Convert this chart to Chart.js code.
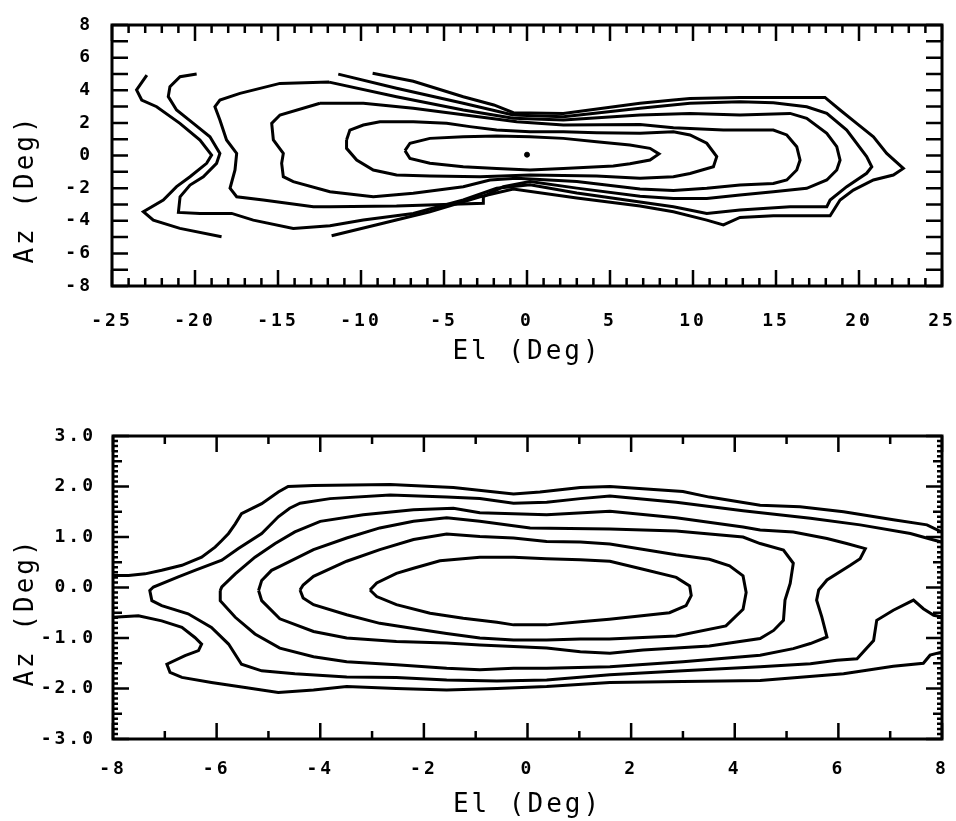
<!DOCTYPE html>
<html>
<head>
<meta charset="utf-8">
<script src="https://cdn.jsdelivr.net/npm/chart.js@4.4.1/dist/chart.umd.min.js"></script>
<style>
  html, body { margin: 0; padding: 0; background: #fff; }
  #wrap { position: relative; width: 956px; height: 821px; }
  canvas { position: absolute; left: 0; }
  #topChart { top: 0; }
  #botChart { top: 400px; }
</style>
</head>
<body>
<div id="wrap">
  <canvas id="topChart" width="956" height="380"></canvas>
  <canvas id="botChart" width="956" height="421"></canvas>
</div>
<script>
// ---- top plot: El -25..25, Az -8..8, contours as [El, Az] pairs ----
const topC1 = [[-7.35,0.30],[-7.05,0.75],[-5.85,1.05],[-3.84,1.15],[-1.83,1.20],[0.18,1.15],[2.19,1.05],[4.19,0.85],[6.20,0.64],[7.41,0.44],[7.95,0.10],[7.41,-0.28],[6.20,-0.50],[5.20,-0.65],[2.19,-0.79],[0.18,-0.89],[-1.83,-0.79],[-3.84,-0.69],[-5.85,-0.48],[-7.05,-0.18],[-7.35,0.30]];
const topC2 = [[-10.87,0.95],[-10.67,1.56],[-9.86,1.87],[-8.86,2.07],[-6.85,2.07],[-4.84,1.97],[-3.44,1.77],[-1.83,1.56],[0.18,1.46],[2.19,1.46],[4.19,1.40],[6.81,1.36],[8.82,1.46],[9.82,1.26],[10.83,0.75],[11.43,-0.07],[11.23,-0.69],[9.82,-1.10],[8.82,-1.30],[6.81,-1.40],[4.19,-1.25],[0.18,-1.20],[-2.83,-1.30],[-5.85,-1.26],[-7.86,-1.20],[-9.26,-0.89],[-10.26,-0.28],[-10.87,0.44],[-10.87,0.95]];
const topC3 = [[-12.47,3.20],[-9.86,3.20],[-6.85,2.90],[-3.84,2.50],[-0.62,2.07],[2.19,1.87],[6.81,1.90],[8.82,1.70],[11.83,1.56],[14.84,1.56],[15.65,1.26],[16.25,0.54],[16.45,-0.28],[16.25,-0.89],[15.65,-1.50],[14.84,-1.71],[12.83,-1.81],[10.83,-2.01],[8.82,-2.15],[6.81,-2.05],[3.00,-1.60],[-0.62,-1.40],[-2.23,-1.50],[-3.84,-1.91],[-6.85,-2.32],[-9.26,-2.53],[-11.87,-2.22],[-14.08,-1.60],[-14.68,-1.30],[-14.78,-0.48],[-14.68,0.13],[-15.28,0.95],[-15.38,1.97],[-14.88,2.48],[-12.47,3.20]];
const topC4 = [[-11.92,4.50],[-7.86,3.60],[-3.84,2.79],[-0.83,2.28],[2.19,2.18],[6.81,2.48],[9.82,2.58],[12.83,2.48],[15.85,2.58],[16.85,2.28],[18.06,1.36],[18.66,0.54],[18.86,-0.28],[18.66,-0.89],[18.06,-1.50],[16.85,-2.01],[14.84,-2.22],[12.83,-2.42],[10.83,-2.63],[8.82,-2.63],[6.81,-2.50],[3.00,-2.00],[0.18,-1.60],[-1.43,-1.91],[-2.63,-2.53],[-2.63,-2.93],[-7.86,-3.10],[-11.87,-3.14],[-12.87,-3.14],[-15.89,-2.73],[-17.49,-2.53],[-17.89,-2.01],[-17.59,-0.89],[-17.49,0.13],[-18.10,0.95],[-18.50,2.18],[-18.80,2.99],[-18.50,3.40],[-17.29,3.81],[-14.88,4.42],[-11.92,4.50]];
const topC5 = [[-19.90,5.00],[-20.90,4.83],[-21.51,4.22],[-21.61,3.61],[-21.11,2.79],[-20.10,1.97],[-19.10,1.15],[-18.50,0.13],[-18.70,-0.48],[-19.50,-1.30],[-20.30,-1.81],[-20.90,-2.53],[-21.00,-3.49],[-19.70,-3.55],[-17.79,-3.55],[-16.49,-3.96],[-14.08,-4.47],[-11.87,-4.30],[-9.86,-3.96],[-6.85,-3.55],[-3.84,-2.73],[-1.83,-2.01],[0.18,-1.80],[3.00,-2.30],[6.81,-2.85],[8.82,-3.14],[10.83,-3.55],[12.83,-3.34],[15.85,-3.14],[18.06,-3.14],[18.26,-2.73],[19.26,-1.91],[20.46,-1.09],[20.77,-0.69],[20.46,-0.07],[19.26,1.56],[18.06,2.58],[16.85,2.99],[14.84,3.24],[12.83,3.30],[9.82,3.20],[6.81,2.89],[2.19,2.38],[-0.83,2.48],[-3.84,3.20],[-7.86,4.12],[-11.37,4.99]];
const topC6a = [[-22.90,4.93],[-23.52,4.02],[-23.21,3.40],[-22.31,2.99],[-20.91,1.97],[-19.70,0.95],[-19.00,0.03],[-19.30,-0.48],[-20.30,-1.30],[-21.11,-1.91],[-21.91,-2.73],[-23.11,-3.44],[-22.51,-3.96],[-20.91,-4.47],[-18.40,-4.98]];
const topC6b = [[-11.77,-4.92],[-8.86,-4.20],[-5.85,-3.45],[-2.83,-2.53],[-0.83,-2.05],[3.00,-2.60],[6.81,-3.10],[8.82,-3.45],[10.83,-3.96],[11.83,-4.26],[12.83,-3.80],[14.84,-3.70],[18.26,-3.70],[18.86,-2.73],[19.66,-2.12],[20.87,-1.50],[22.07,-1.20],[22.67,-0.79],[21.67,0.13],[20.87,1.15],[19.86,1.97],[18.86,2.79],[17.95,3.56],[12.83,3.56],[9.82,3.50],[8.82,3.40],[6.81,3.20],[2.19,2.58],[-0.82,2.62],[-2.00,3.10],[-3.84,3.60],[-6.85,4.55],[-9.30,5.04]];
const topDot = [[0.0, 0.05]];
const topXTicks = { min: -25, max: 25, step: 5 };
const topYTicks = { min: -8, max: 8, step: 2 };

// ---- bottom plot: El -8..8, Az -3..3 ----
const botB1 = [[-3.04,-0.05],[-2.91,0.09],[-2.53,0.28],[-2.20,0.38],[-1.69,0.53],[-0.92,0.60],[-0.27,0.60],[0.37,0.57],[1.02,0.55],[1.59,0.52],[2.23,0.36],[2.87,0.20],[3.13,0.03],[3.16,-0.16],[3.06,-0.36],[2.74,-0.50],[1.58,-0.63],[1.02,-0.68],[0.37,-0.74],[-0.27,-0.74],[-0.59,-0.69],[-1.24,-0.61],[-1.88,-0.51],[-2.53,-0.34],[-2.91,-0.18],[-3.04,-0.05]];
const botB2 = [[-4.39,-0.05],[-4.33,0.05],[-4.13,0.22],[-3.49,0.52],[-2.85,0.75],[-2.20,0.95],[-1.56,1.06],[-0.92,1.01],[-0.27,0.98],[0.37,0.91],[1.02,0.90],[1.59,0.86],[2.87,0.65],[3.51,0.56],[3.90,0.43],[4.16,0.23],[4.22,-0.10],[4.16,-0.43],[3.83,-0.76],[2.87,-0.96],[1.58,-1.02],[1.02,-1.02],[0.37,-1.04],[-0.27,-1.04],[-0.92,-1.00],[-1.56,-0.91],[-2.20,-0.81],[-2.85,-0.71],[-3.49,-0.54],[-4.13,-0.34],[-4.33,-0.21],[-4.39,-0.05]];
const botB3 = [[-5.19,-0.06],[-5.13,0.14],[-4.94,0.34],[-4.78,0.42],[-4.13,0.75],[-3.49,0.98],[-2.85,1.18],[-2.20,1.31],[-1.56,1.38],[-0.92,1.31],[0.05,1.18],[1.59,1.16],[2.87,1.12],[4.16,1.00],[4.49,0.87],[4.94,0.74],[5.13,0.48],[5.07,0.08],[4.97,-0.25],[4.94,-0.65],[4.75,-0.85],[4.49,-1.01],[3.51,-1.16],[2.23,-1.24],[1.59,-1.30],[1.02,-1.27],[0.37,-1.20],[-0.27,-1.17],[-0.92,-1.14],[-1.56,-1.10],[-2.53,-1.07],[-3.49,-1.00],[-4.13,-0.87],[-4.78,-0.62],[-5.13,-0.26],[-5.19,-0.06]];
const botB4 = [[-5.93,-0.06],[-5.90,0.01],[-5.64,0.27],[-5.26,0.60],[-4.87,0.87],[-4.49,1.10],[-4.00,1.31],[-3.17,1.44],[-2.20,1.54],[-1.43,1.57],[-0.92,1.48],[0.37,1.44],[1.59,1.51],[2.87,1.38],[4.16,1.20],[4.49,1.14],[5.13,1.10],[5.78,0.97],[6.16,0.87],[6.52,0.77],[6.42,0.57],[6.23,0.44],[5.78,0.15],[5.62,-0.05],[5.58,-0.25],[5.68,-0.58],[5.78,-0.98],[5.46,-1.11],[5.13,-1.21],[4.49,-1.34],[3.00,-1.47],[1.59,-1.57],[0.37,-1.60],[-0.27,-1.60],[-0.92,-1.63],[-1.56,-1.60],[-2.53,-1.53],[-3.49,-1.47],[-4.13,-1.37],[-4.78,-1.20],[-5.26,-0.92],[-5.64,-0.59],[-5.93,-0.26],[-5.93,-0.06]];
const botB5 = [[7.99,0.90],[7.84,0.94],[7.39,1.07],[6.42,1.24],[5.46,1.37],[4.16,1.52],[2.87,1.69],[1.59,1.81],[1.02,1.76],[0.37,1.69],[-0.27,1.67],[-0.92,1.76],[-1.56,1.79],[-2.65,1.83],[-3.81,1.76],[-4.39,1.67],[-4.59,1.57],[-4.81,1.40],[-5.13,1.07],[-5.58,0.77],[-5.90,0.54],[-6.42,0.34],[-6.74,0.21],[-7.22,0.01],[-7.29,-0.06],[-7.25,-0.26],[-7.06,-0.36],[-6.55,-0.52],[-6.10,-0.79],[-5.77,-1.12],[-5.52,-1.52],[-5.13,-1.65],[-4.49,-1.71],[-3.49,-1.77],[-2.53,-1.78],[-1.56,-1.83],[-0.59,-1.85],[0.37,-1.83],[1.59,-1.73],[3.00,-1.65],[4.49,-1.57],[5.46,-1.51],[5.97,-1.44],[6.36,-1.41],[6.68,-1.05],[6.74,-0.65],[7.06,-0.45],[7.45,-0.25],[7.64,-0.42],[7.84,-0.55],[7.99,-0.58]];
const botB6top = [[-7.99,0.24],[-7.70,0.24],[-7.38,0.27],[-7.06,0.34],[-6.67,0.44],[-6.29,0.60],[-6.03,0.80],[-5.90,0.93],[-5.77,1.07],[-5.64,1.26],[-5.52,1.46],[-5.13,1.66],[-4.81,1.89],[-4.62,2.00],[-4.13,2.02],[-2.65,2.04],[-1.43,1.98],[-0.27,1.85],[0.24,1.89],[1.02,1.98],[1.59,2.00],[3.00,1.90],[3.51,1.79],[4.49,1.63],[5.26,1.60],[6.10,1.50],[7.06,1.34],[7.71,1.24],[7.99,1.10]];
const botB6bot = [[-7.99,-0.59],[-7.51,-0.56],[-7.06,-0.66],[-6.67,-0.79],[-6.42,-0.99],[-6.29,-1.12],[-6.35,-1.25],[-6.61,-1.35],[-6.96,-1.52],[-6.90,-1.68],[-6.67,-1.78],[-6.10,-1.88],[-5.45,-1.98],[-4.81,-2.08],[-4.13,-2.03],[-3.49,-1.96],[-2.53,-2.00],[-1.56,-2.03],[-0.59,-2.00],[0.37,-1.96],[1.59,-1.88],[3.00,-1.86],[4.49,-1.84],[6.10,-1.71],[7.06,-1.56],[7.64,-1.50],[7.77,-1.34],[7.99,-1.28]];
const botXTicks = { min: -8, max: 8, step: 2 };
const botYTicks = { min: -3, max: 3, step: 1 };

const MONO = 'DejaVu Sans Mono';

// which values get a tick mark on the frame, and how long: [step, length] pairs
function marks(scale, levels) {
  const base = levels[0][0];
  const n = Math.round((scale.max - scale.min) / base);
  const out = [];
  for (let i = 0; i <= n; i++) {
    const v = scale.min + i * base;
    let len = 0;
    levels.forEach(([step, l]) => {
      const r = v / step;
      if (Math.abs(r - Math.round(r)) < 1e-6) len = Math.max(len, l);
    });
    out.push([scale.getPixelForValue(v), len]);
  }
  return out;
}

// box frame with inward ticks on all four sides, plus the rotated Az title
const frameTicks = {
  id: 'frameTicks',
  beforeLayout(chart) { chart.ctx.letterSpacing = '3px'; },
  beforeDraw(chart) { chart.ctx.letterSpacing = '3px'; },
  afterDraw(chart, args, opts) {
    const { ctx, chartArea: a, scales: { x, y } } = chart;
    ctx.save();
    ctx.strokeStyle = '#000';
    ctx.lineWidth = 3;
    ctx.strokeRect(a.left, a.top, a.right - a.left, a.bottom - a.top);
    ctx.lineWidth = 2.5;
    ctx.beginPath();
    marks(x, opts.x).forEach(([px, len]) => {
      ctx.moveTo(px, a.top); ctx.lineTo(px, a.top + len);
      ctx.moveTo(px, a.bottom); ctx.lineTo(px, a.bottom - len);
    });
    marks(y, opts.y).forEach(([py, len]) => {
      ctx.moveTo(a.left, py); ctx.lineTo(a.left + len, py);
      ctx.moveTo(a.right, py); ctx.lineTo(a.right - len, py);
    });
    ctx.stroke();

    const t = opts.title;
    ctx.translate(t.x, t.y);
    ctx.rotate(-Math.PI / 2);
    ctx.font = '26px "' + MONO + '"';
    ctx.fillStyle = '#000';
    ctx.textAlign = 'center';
    ctx.textBaseline = 'middle';
    ctx.fillText(t.text, 0, 0);
    ctx.restore();
  }
};

function lineSet(pts) {
  return {
    data: pts.map(([x, y]) => ({ x, y })),
    showLine: true,
    borderColor: '#000',
    borderWidth: 3,
    pointRadius: 0,
    tension: 0,
    fill: false
  };
}

// keep the plot box fixed: no extra room for overhanging end labels
function fixBox(s) {
  s.paddingLeft = 0; s.paddingRight = 0; s.paddingTop = 0; s.paddingBottom = 0;
}

function makeChart(id, sets, xt, yt, box, yFmt) {
  return new Chart(document.getElementById(id), {
    type: 'scatter',
    data: { datasets: sets },
    options: {
      responsive: false,
      animation: false,
      layout: { padding: { top: box.top, right: 14, left: 0, bottom: 0 } },
      plugins: {
        legend: { display: false },
        tooltip: { enabled: false },
        frameTicks: { x: box.xMarks, y: box.yMarks, title: box.yTitle }
      },
      scales: {
        x: {
          type: 'linear', position: 'bottom',
          min: xt.min, max: xt.max,
          grid: { display: false, drawTicks: false },
          border: { display: false },
          ticks: {
            stepSize: xt.step, autoSkip: false, maxRotation: 0,
            padding: box.xPad, color: '#000',
            font: { family: MONO, weight: 'bold', size: 18 }
          },
          title: {
            display: true, text: 'El (Deg)', color: '#000',
            font: { family: MONO, size: 26 },
            padding: { top: 0, bottom: box.titlePad }
          },
          afterFit(s) { s.height = box.xH; fixBox(s); }
        },
        y: {
          type: 'linear',
          min: yt.min, max: yt.max,
          grid: { display: false, drawTicks: false },
          border: { display: false },
          ticks: {
            stepSize: yt.step, autoSkip: false,
            padding: box.yPad, color: '#000',
            font: { family: MONO, weight: 'bold', size: 18 },
            callback: yFmt
          },
          afterFit(s) { s.width = box.yW; fixBox(s); }
        }
      }
    },
    plugins: [frameTicks]
  });
}

const topSets = [topC1, topC2, topC3, topC4, topC5, topC6a, topC6b].map(lineSet);
topSets.push({
  data: topDot.map(([x, y]) => ({ x, y })),
  showLine: false, pointRadius: 2.5,
  pointBackgroundColor: '#000', pointBorderColor: '#000'
});

makeChart('topChart', topSets, topXTicks, topYTicks, {
  top: 25, xH: 94, yW: 112, xPad: 25, yPad: 19, titlePad: 12,
  xMarks: [[1, 8], [5, 16]], yMarks: [[1, 16]],
  yTitle: { text: 'Az (Deg)', x: 26, y: 189 }
}, v => String(v));

const botSets = [botB1, botB2, botB3, botB4, botB5, botB6top, botB6bot].map(lineSet);

makeChart('botChart', botSets, botXTicks, botYTicks, {
  top: 36, xH: 82, yW: 113, xPad: 20, yPad: 17, titlePad: 0,
  xMarks: [[1, 8], [2, 16]], yMarks: [[0.1, 5], [0.5, 9], [1, 16]],
  yTitle: { text: 'Az (Deg)', x: 26, y: 212 }
}, v => v.toFixed(1));
</script>
</body>
</html>
